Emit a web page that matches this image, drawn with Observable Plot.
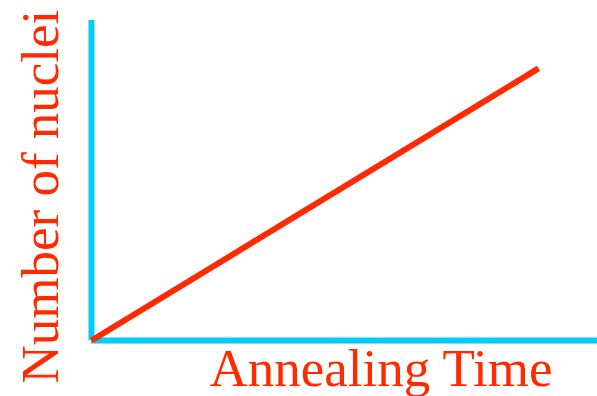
<!DOCTYPE html>
<html>
<head>
<meta charset="utf-8">
<script src="https://cdn.jsdelivr.net/npm/d3@7"></script>
<script src="https://cdn.jsdelivr.net/npm/@observablehq/plot@0.6"></script>
<style>
  html, body { margin: 0; padding: 0; background: #fff; }
  #chart svg { display: block; }
</style>
</head>
<body>
<div id="chart"></div>
<script>
// Data: schematic linear growth of nuclei count with annealing time
const annealingTime = [0, 1];
const nucleiCount = [0, 1];
// Extent of the drawn axis lines (in data units)
const xAxisExtent = [0, 1.132];
const yAxisExtent = [0, 1.176];
const xLabel = ["Annealing Time"];
const yLabel = ["Number of nuclei"];

const cyan = "#00CCFF";
const red = "#FF2A00";
const font = "'Liberation Serif', 'Times New Roman', serif";
const fs = 53;

const lineData = annealingTime.map((t, i) => ({t, n: nucleiCount[i]}));

const chart = Plot.plot({
  width: 597,
  height: 396,
  marginLeft: 91,
  marginRight: 0,
  marginTop: 20,
  marginBottom: 56,
  x: {domain: xAxisExtent, axis: null},
  y: {domain: yAxisExtent, axis: null},
  style: {background: "#fff", fontFamily: font},
  marks: [
    Plot.ruleX([xAxisExtent[0]], {y1: yAxisExtent[0], y2: yAxisExtent[1], stroke: cyan, strokeWidth: 6}),
    Plot.ruleY([yAxisExtent[0]], {x1: xAxisExtent[0], x2: xAxisExtent[1], stroke: cyan, strokeWidth: 6}),
    Plot.line(lineData, {x: "t", y: "n", stroke: red, strokeWidth: 6, strokeLinecap: "butt"}),
    Plot.text(xLabel, {
      text: d => d, frameAnchor: "bottom-left", textAnchor: "start", lineAnchor: "middle",
      dx: 118, dy: 29, fill: red, fontSize: fs, fontFamily: font
    }),
    Plot.text(yLabel, {
      text: d => d, frameAnchor: "bottom-left", textAnchor: "start", lineAnchor: "middle",
      rotate: -90, dx: -50, dy: 43, fill: red, fontSize: fs, fontFamily: font
    })
  ]
});
document.getElementById("chart").appendChild(chart);
</script>
</body>
</html>
